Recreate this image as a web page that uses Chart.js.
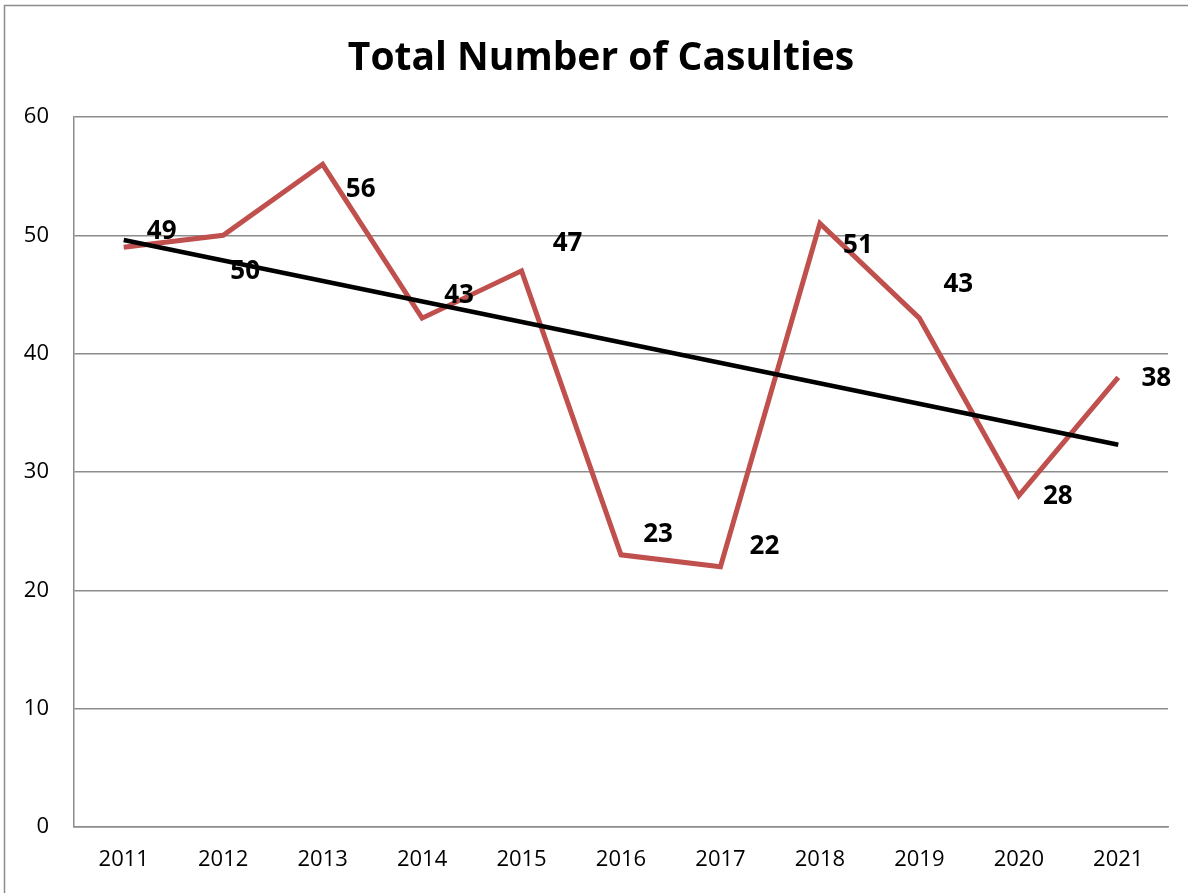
<!DOCTYPE html>
<html>
<head>
<meta charset="utf-8">
<script src="https://cdn.jsdelivr.net/npm/chart.js@4/dist/chart.umd.min.js"></script>
<style>
  html, body { margin: 0; padding: 0; background: #fff; }
  #wrap { width: 1188px; height: 893px; position: relative; }
</style>
</head>
<body>
<div id="wrap"><canvas id="c" width="1188" height="893"></canvas></div>
<script>
const years = ['2011','2012','2013','2014','2015','2016','2017','2018','2019','2020','2021'];
const casualties = [49, 50, 56, 43, 47, 23, 22, 51, 43, 28, 38];
// Trendline: start and end values
const trendline = [49.6, null, null, null, null, null, null, null, null, null, 32.3];
const yTicks = [0, 10, 20, 30, 40, 50, 60];
const titleText = 'Total Number of Casulties';

// Label offsets (pixels) relative to each point, in a separate style list
const labelOffsets = [[38,-16],[22,36],[38,25],[37,-23],[46,-27],[37,-20],[44,-20],[38,22],[39,-34],[39,1],[38,1]];

const FONT = '"Open Sans", Lato, "Liberation Sans", sans-serif';

const frame = {
  id: 'frame',
  beforeDraw(chart) {
    const ctx = chart.ctx;
    ctx.save();
    ctx.fillStyle = '#fff';
    ctx.fillRect(0, 0, chart.width, chart.height);
    ctx.strokeStyle = '#8c8c8c';
    ctx.lineWidth = 1.5;
    ctx.beginPath();
    ctx.moveTo(4.5, chart.height);
    ctx.lineTo(4.5, 5.5);
    ctx.lineTo(chart.width, 5.5);
    ctx.stroke();
    ctx.restore();
  },
  afterDraw(chart) {
    const ctx = chart.ctx;
    ctx.save();
    ctx.font = 'bold 39px ' + FONT;
    ctx.fillStyle = '#000';
    ctx.textAlign = 'center';
    ctx.textBaseline = 'alphabetic';
    ctx.fillText(titleText, 601, 70);
    ctx.restore();
  }
};

const valueLabels = {
  id: 'valueLabels',
  afterDatasetsDraw(chart) {
    const ctx = chart.ctx;
    const meta = chart.getDatasetMeta(0);
    ctx.save();
    ctx.font = 'bold 26px ' + FONT;
    ctx.fillStyle = '#000';
    ctx.textAlign = 'center';
    ctx.textBaseline = 'middle';
    meta.data.forEach((pt, i) => {
      const off = labelOffsets[i];
      ctx.fillText(String(casualties[i]), pt.x + off[0], pt.y + off[1]);
    });
    ctx.restore();
  }
};

new Chart(document.getElementById('c'), {
  type: 'line',
  data: {
    labels: years,
    datasets: [
      {
        data: casualties,
        borderColor: '#C0504D',
        borderWidth: 5,
        pointRadius: 0,
        tension: 0,
        borderJoinStyle: 'miter',
        order: 2
      },
      {
        data: trendline,
        borderColor: '#000',
        borderWidth: 4.5,
        pointRadius: 0,
        spanGaps: true,
        tension: 0,
        order: 1
      }
    ]
  },
  options: {
    responsive: false,
    animation: false,
    devicePixelRatio: 1,
    layout: { padding: { top: 117, left: 0, right: 20, bottom: 0 } },
    plugins: {
      legend: { display: false },
      tooltip: { enabled: false },
      title: { display: false }
    },
    scales: {
      x: {
        offset: true,
        grid: { display: false, drawTicks: false },
        border: { display: true, color: '#8c8c8c', width: 1.5 },
        ticks: { color: '#000', font: { family: FONT, size: 22 }, padding: 20, maxRotation: 0 },
        afterFit(scale) { scale.height = 66; }
      },
      y: {
        min: 0,
        max: 60,
        afterBuildTicks(scale) { scale.ticks = yTicks.map(v => ({ value: v })); },
        grid: { color: '#8c8c8c', lineWidth: 1.5, drawTicks: false },
        border: { display: true, color: '#8c8c8c', width: 1.5 },
        ticks: { color: '#000', font: { family: FONT, size: 22 }, padding: 25 },
        afterFit(scale) { scale.width = 74; }
      }
    }
  },
  plugins: [frame, valueLabels]
});
</script>
</body>
</html>
